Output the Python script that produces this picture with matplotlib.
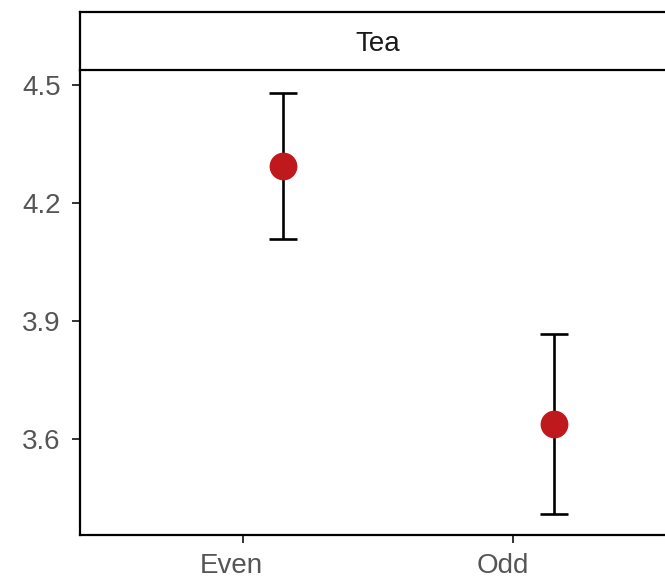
import numpy as np
import matplotlib
matplotlib.use('Agg')
import matplotlib.pyplot as plt
from matplotlib.transforms import ScaledTranslation

plt.rcParams['font.family'] = ['Liberation Sans', 'DejaVu Sans']

groups = ['Even', 'Odd']
means = [4.294, 3.639]
lower = [4.109, 3.410]
upper = [4.480, 3.868]
panel = 'Tea'
yticks = [3.6, 3.9, 4.2, 4.5]

W, H = 665, 580
fig = plt.figure(figsize=(W / 100, H / 100), dpi=100)


def box(l, t, r, b):
    return [l / W, 1 - b / H, (r - l) / W, (b - t) / H]


ax = fig.add_axes(box(80, 70, 676, 535))
strip = fig.add_axes(box(80, 12, 676, 70))

x = np.arange(1, len(groups) + 1)
xd = x + 0.15
m = np.array(means)
err = np.array([m - np.array(lower), np.array(upper) - m])

ax.errorbar(xd, m, yerr=err, fmt='none', ecolor='black', elinewidth=1.9,
            capsize=10, capthick=1.9, zorder=2)
ax.plot(xd, m, 'o', color='#c0191d', markersize=20, markeredgewidth=0, zorder=3)

ax.set_xlim(0.4, 2.6)
ax.set_ylim(3.357, 4.539)
ax.set_xticks(x)
ax.set_xticklabels(groups)
ax.set_yticks(yticks)
ax.set_yticklabels([f'{v:.1f}' for v in yticks])
for s in ['top', 'right']:
    ax.spines[s].set_visible(False)
for s in ['left', 'bottom']:
    ax.spines[s].set_linewidth(1.6)
    ax.spines[s].set_color('black')
ax.tick_params(length=6, width=1.4, color='#333333', labelcolor='#555555',
               labelsize=20)
ax.tick_params(axis='y', pad=8)
ax.tick_params(axis='x', pad=7)

# labels sit a little left of the ticks in the original
shift = ScaledTranslation(-11 / 100, 0, fig.dpi_scale_trans)
for lab in ax.get_xticklabels():
    lab.set_transform(lab.get_transform() + shift)

strip.set_xticks([])
strip.set_yticks([])
for s in strip.spines.values():
    s.set_linewidth(1.6)
    s.set_color('black')
strip.text(0.5, 0.44, panel, transform=strip.transAxes,
           ha='center', va='center', fontsize=20, color='#1a1a1a')

fig.savefig('out.png', dpi=100)
